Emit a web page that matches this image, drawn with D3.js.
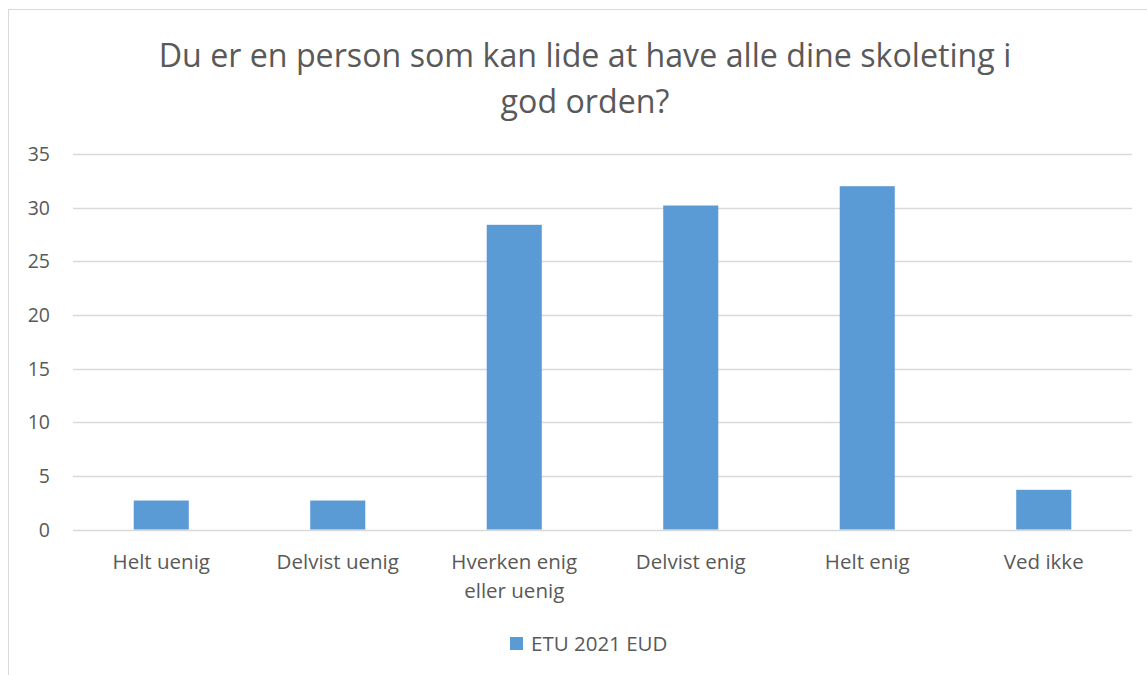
<!DOCTYPE html>
<html><head><meta charset="utf-8">
<script src="https://cdn.jsdelivr.net/npm/d3@7"></script>
<style>body{margin:0;background:#fff;} svg{display:block;font-family:"Open Sans",sans-serif;}</style>
</head><body><svg id="c" width="1147" height="675"></svg>
<script>
const categories = [["Helt uenig"],["Delvist uenig"],["Hverken enig","eller uenig"],["Delvist enig"],["Helt enig"],["Ved ikke"]];
const values = [2.7, 2.7, 28.4, 30.2, 32.0, 3.7];
const yTicks = [0,5,10,15,20,25,30,35];
const seriesName = "ETU 2021 EUD";
const titleLines = ["Du er en person som kan lide at have alle dine skoleting i","god orden?"];

const svg = d3.select("#c");
const txt = "#595959";
svg.append("rect").attr("x",8.5).attr("y",9.5).attr("width",1150).attr("height",680).attr("fill","#fff").attr("stroke","#d9d9d9");

const x = d3.scaleBand().domain(categories.map((d,i)=>i)).range([73,1132]).paddingInner(0.688).paddingOuter(0.344);
const y = d3.scaleLinear().domain([0,35]).range([529.5,154]);

svg.append("g").selectAll("line").data(yTicks).join("line")
  .attr("x1",73).attr("x2",1132).attr("y1",d=>Math.round(y(d))+0.5).attr("y2",d=>Math.round(y(d))+0.5)
  .attr("stroke","#d9d9d9").attr("stroke-width",1.3);

svg.append("g").selectAll("text").data(yTicks).join("text")
  .attr("x",50).attr("y",d=>y(d)).attr("dy","0.36em").attr("text-anchor","end")
  .attr("font-size",19.5).attr("fill",txt).text(d=>d);

svg.append("g").selectAll("rect").data(values).join("rect")
  .attr("x",(d,i)=>x(i)).attr("width",x.bandwidth())
  .attr("y",d=>y(d)).attr("height",d=>y(0)-y(d)).attr("fill","#5b9bd5");

const xl = svg.append("g").selectAll("text").data(categories).join("text")
  .attr("text-anchor","middle").attr("font-size",20.5).attr("fill",txt)
  .attr("x",(d,i)=>x(i)+x.bandwidth()/2).attr("y",569);
xl.selectAll("tspan").data(d=>d).join("tspan")
  .attr("x",function(){return d3.select(this.parentNode).attr("x");})
  .attr("dy",(d,i)=>i?29:0).text(d=>d);

svg.append("g").selectAll("text").data(titleLines).join("text")
  .attr("x",585).attr("y",(d,i)=>67+i*46).attr("text-anchor","middle")
  .attr("font-size",32.2).attr("fill",txt).text(d=>d);

svg.append("rect").attr("x",510).attr("y",637).attr("width",13).attr("height",13).attr("fill","#5b9bd5");
svg.append("text").attr("x",531).attr("y",651).attr("font-size",20.5).attr("fill",txt).text(seriesName);
</script></body></html>
